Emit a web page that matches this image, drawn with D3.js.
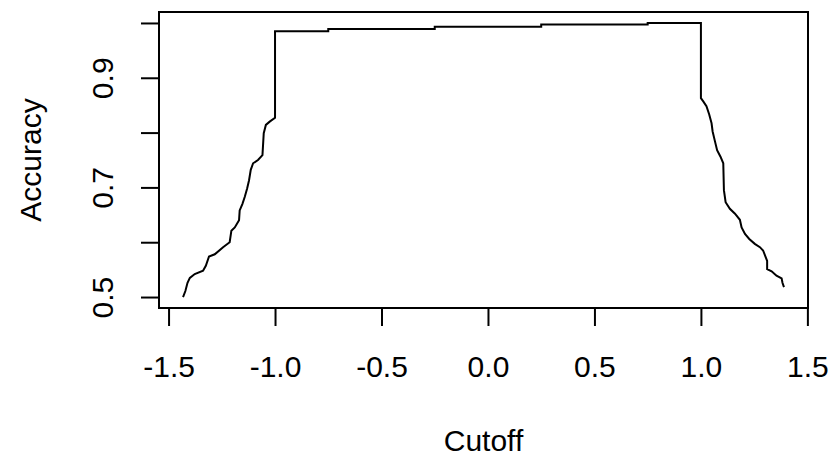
<!DOCTYPE html>
<meta charset="utf-8">
<style>
body{
	margin: 0;
	background: #fff;
}
.axis text,
.label {
  font: 30px "Liberation Sans", Arial, sans-serif;
  fill: #000;
}
.axis line {
  stroke: #000;
  stroke-width: 2px;
}
.curve {
  fill: none;
  stroke: #000;
  stroke-width: 2px;
}
.box {
  fill: none;
  stroke: #000;
  stroke-width: 2px;
}
</style>
<svg class="chart"></svg>
<script src="https://cdn.jsdelivr.net/npm/d3@7"></script>
<script>
var cutoff = [-1.432, -1.421, -1.411, -1.400, -1.377, -1.338, -1.325, -1.310, -1.283, -1.244,
	-1.213, -1.205, -1.189, -1.169, -1.166, -1.153, -1.142, -1.131, -1.122, -1.114,
	-1.103, -1.080, -1.059, -1.053, -1.043, -1.025, -1.000, -1.000,
	-0.75, -0.75, -0.25, -0.25, 0.25, 0.25, 0.75, 0.75, 1.0, 1.0,
	1.011, 1.026, 1.039, 1.050, 1.055, 1.066, 1.076, 1.092, 1.105, 1.108,
	1.116, 1.136, 1.160, 1.183, 1.191, 1.207, 1.227, 1.253, 1.277, 1.292,
	1.305, 1.311, 1.311, 1.332, 1.355, 1.379, 1.383, 1.390];

var accuracy = [0.500, 0.511, 0.526, 0.535, 0.542, 0.548, 0.557, 0.574, 0.578, 0.591,
	0.600, 0.621, 0.627, 0.640, 0.658, 0.670, 0.683, 0.698, 0.713, 0.732,
	0.744, 0.750, 0.759, 0.799, 0.814, 0.820, 0.827, 0.985,
	0.985, 0.989, 0.989, 0.993, 0.993, 0.997, 0.997, 1.000, 1.000, 0.863,
	0.857, 0.848, 0.833, 0.817, 0.802, 0.784, 0.768, 0.756, 0.744, 0.695,
	0.673, 0.661, 0.652, 0.641, 0.627, 0.615, 0.606, 0.597, 0.591, 0.585,
	0.572, 0.566, 0.551, 0.547, 0.539, 0.534, 0.526, 0.518];

var xTicks = [-1.5, -1.0, -0.5, 0.0, 0.5, 1.0, 1.5];
var yTicks = [0.5, 0.6, 0.7, 0.8, 0.9, 1.0];
var yLabelled = [0.5, 0.7, 0.9];

var data = cutoff.map(function(c, i){ return {x: c, y: accuracy[i]}; });

var margin = {top: 12, right: 22, bottom: 151, left: 159};
var width = 830 - margin.left - margin.right,
	height = 459 - margin.top - margin.bottom;

// R style 4% padding around the data range
function pad(ext){
	var d = (ext[1] - ext[0]) * 0.04;
	return [ext[0] - d, ext[1] + d];
}

var x = d3.scaleLinear()
	.domain(pad(d3.extent(cutoff)))
	.range([0, width]);

var y = d3.scaleLinear()
	.domain(pad(d3.extent(accuracy)))
	.range([height, 0]);

var svg = d3.select(".chart")
	.attr("width", 830)
	.attr("height", 459);

var chart = svg.append("g")
	.attr("transform", "translate(" + margin.left + "," + margin.top + ")");

var xAxis = chart.append("g")
	.attr("class", "x axis")
	.attr("transform", "translate(0," + height + ")")
	.call(d3.axisBottom(x).tickValues(xTicks).tickSize(18).tickFormat(d3.format(".1f")));
xAxis.select(".domain").remove();
xAxis.selectAll("text")
	.attr("y", 69)
	.attr("dy", null)
	.text(function(d){ return d3.format(".1f")(d).replace("−", "-"); });

var yAxis = chart.append("g")
	.attr("class", "y axis")
	.call(d3.axisLeft(y).tickValues(yTicks).tickSize(18));
yAxis.select(".domain").remove();
yAxis.selectAll("text").remove();
yAxis.selectAll(".tick")
	.filter(function(d){ return yLabelled.indexOf(d) >= 0; })
	.append("text")
	.attr("transform", "translate(-46,0) rotate(-90)")
	.attr("text-anchor", "middle")
	.attr("fill", "#000")
	.text(function(d){ return d3.format(".1f")(d); });

chart.append("path")
	.datum(data)
	.attr("class", "curve")
	.attr("d", d3.line()
		.x(function(d){ return x(d.x); })
		.y(function(d){ return y(d.y); }));

chart.append("rect")
	.attr("class", "box")
	.attr("width", width)
	.attr("height", height);

svg.append("text")
	.attr("class", "label")
	.attr("x", margin.left + width / 2)
	.attr("y", 451)
	.attr("text-anchor", "middle")
	.text("Cutoff");

svg.append("text")
	.attr("class", "label")
	.attr("transform", "translate(41," + (margin.top + height / 2) + ") rotate(-90)")
	.attr("text-anchor", "middle")
	.text("Accuracy");
</script>
